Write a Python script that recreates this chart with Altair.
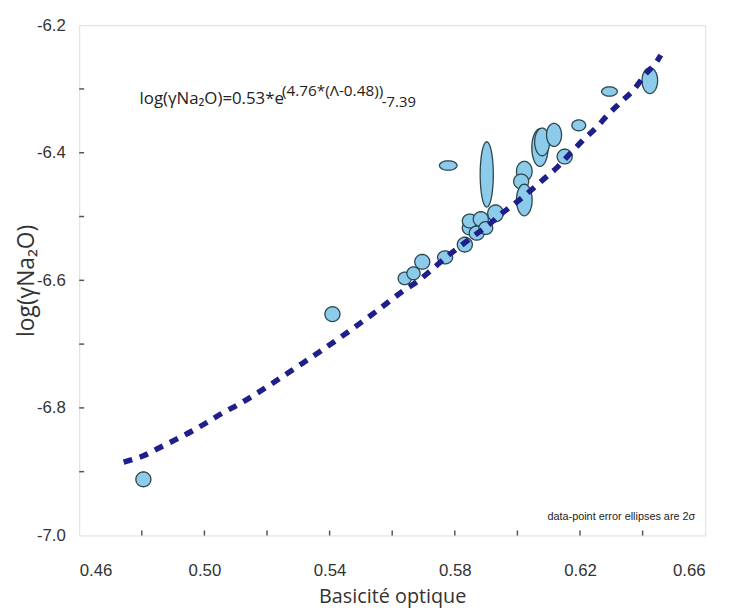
import altair as alt
import numpy as np
import pandas as pd

# ---- data ----
basicity = [0.4805, 0.5409, 0.5640, 0.5668, 0.5696, 0.5769, 0.5779, 0.5832,
            0.5848, 0.5848, 0.5870, 0.5883, 0.5899, 0.5902, 0.5930, 0.6022,
            0.6012, 0.6022, 0.6072, 0.6079, 0.6117, 0.6151, 0.6196, 0.6294, 0.6423]
log_gamma = [-6.912, -6.653, -6.597, -6.589, -6.571, -6.564, -6.420, -6.544,
             -6.518, -6.507, -6.526, -6.504, -6.518, -6.434, -6.495, -6.429,
             -6.445, -6.474, -6.392, -6.383, -6.372, -6.406, -6.357, -6.304, -6.287]
err_x = [0.0024, 0.0024, 0.0021, 0.0021, 0.0024, 0.0024, 0.0028, 0.0024,
         0.0024, 0.0024, 0.0024, 0.0024, 0.0022, 0.0021, 0.0025, 0.0025,
         0.0024, 0.0025, 0.0026, 0.0024, 0.0024, 0.0024, 0.0022, 0.0025, 0.0025]
err_y = [0.0116, 0.0116, 0.0098, 0.0101, 0.0116, 0.0101, 0.0074, 0.0116,
         0.0109, 0.0109, 0.0109, 0.0116, 0.0101, 0.0512, 0.0132, 0.0155,
         0.0116, 0.0248, 0.0295, 0.0217, 0.0181, 0.0116, 0.0085, 0.0073, 0.0202]

fit_x = [0.4742, 0.4805, 0.4858, 0.4911, 0.4958, 0.5011, 0.5058, 0.5111,
         0.5200, 0.5295, 0.5374, 0.5453, 0.5548, 0.5637, 0.5680, 0.5727,
         0.5769, 0.5816, 0.5864, 0.5906, 0.5953, 0.5996, 0.6043, 0.6085,
         0.6127, 0.6169, 0.6206, 0.6253, 0.6290, 0.6332, 0.6372, 0.6409,
         0.6448, 0.6458]
fit_y = [-6.885, -6.875, -6.862, -6.849, -6.837, -6.822, -6.808, -6.794,
         -6.767, -6.736, -6.710, -6.683, -6.649, -6.616, -6.602, -6.583,
         -6.565, -6.547, -6.529, -6.514, -6.494, -6.478, -6.459, -6.441,
         -6.423, -6.401, -6.382, -6.360, -6.340, -6.320, -6.301, -6.277,
         -6.255, -6.247]

x_labels = [0.46, 0.50, 0.54, 0.58, 0.62, 0.66]
y_labels = [-7.0, -6.8, -6.6, -6.4, -6.2]
x_ticks = [0.48, 0.50, 0.52, 0.54, 0.56, 0.58, 0.60, 0.62, 0.64]
y_ticks = [-6.3, -6.4, -6.5, -6.6, -6.7, -6.8, -6.9]

X_DOM = [0.46, 0.66]
Y_DOM = [-7.0, -6.2]
W, H = 633, 516

# ---- ellipse symbols (shape scaled from the data-unit half axes) ----
def ellipse_path(a, b, n=48):
    t = np.linspace(0, 2 * np.pi, n, endpoint=False)
    pts = [f"{a*np.cos(v):.4f},{b*np.sin(v):.4f}" for v in t]
    return "M" + " L".join(pts) + " Z"

rows = []
for x, y, ex, ey in zip(basicity, log_gamma, err_x, err_y):
    rx = ex / (X_DOM[1] - X_DOM[0]) * W
    ry = ey / (Y_DOM[1] - Y_DOM[0]) * H
    m = max(rx, ry)
    rows.append({"x": x, "y": y, "shape": ellipse_path(rx / m, ry / m),
                 "size": (2 * m) ** 2})
pts = pd.DataFrame(rows)
fit = pd.DataFrame({"x": fit_x, "y": fit_y})

xs = alt.Scale(domain=X_DOM, nice=False, zero=False)
ys = alt.Scale(domain=Y_DOM, nice=False, zero=False)

LABEL_FONT = "Liberation Sans"
TITLE_FONT = "Open Sans"

x_axis = alt.Axis(values=x_labels, labelExpr="format(datum.value, '.2f')",
                  ticks=False, domain=False, grid=False,
                  labelFont=LABEL_FONT, labelFontSize=17, labelColor="#333333",
                  labelPadding=27, title="Basicité optique", titleFont=TITLE_FONT,
                  titleFontSize=20, titleFontWeight="normal", titleColor="#333333",
                  titlePadding=9)
y_axis = alt.Axis(values=y_labels,
                  labelExpr="'-' + format(abs(datum.value), '.1f')",
                  ticks=False, domain=False, grid=False,
                  labelFont=LABEL_FONT, labelFontSize=17, labelColor="#333333",
                  labelPadding=14, title="log(γNa₂O)", titleFont=TITLE_FONT,
                  titleFontSize=23, titleFontWeight="normal", titleColor="#333333",
                  titlePadding=-2)

ell = alt.Chart(pts).mark_point(filled=True, fill="#8ccbea", stroke="#2c4650",
                                strokeWidth=1.3, opacity=1).encode(
    x=alt.X("x:Q", scale=xs, axis=x_axis),
    y=alt.Y("y:Q", scale=ys, axis=y_axis),
    shape=alt.Shape("shape:N", scale=None),
    size=alt.Size("size:Q", scale=None),
)

line = alt.Chart(fit).mark_line(color="#1f1f8c", strokeWidth=5.5,
                                strokeDash=[9, 8], interpolate="monotone").encode(
    x=alt.X("x:Q", scale=xs), y=alt.Y("y:Q", scale=ys))

xt = alt.Chart(pd.DataFrame({"v": x_ticks})).mark_rule(color="#555555", strokeWidth=1.5).encode(
    x=alt.X("v:Q", scale=xs), y=alt.value(H), y2=alt.value(H - 5))
yt = alt.Chart(pd.DataFrame({"v": y_ticks})).mark_rule(color="#555555", strokeWidth=1.5).encode(
    y=alt.Y("v:Q", scale=ys), x=alt.value(0), x2=alt.value(5))

def txt(s, x, y, size, align="left", font=TITLE_FONT):
    return alt.Chart(pd.DataFrame({"t": [s]})).mark_text(
        align=align, baseline="alphabetic", font=font, fontSize=size,
        color="#222222").encode(x=alt.value(x), y=alt.value(y), text="t:N")

eq1 = txt("log(γNa₂O)=0.53*e", 61, 80, 17)
eq2 = txt("(4.76*(Λ-0.48))", 205, 72, 15.5)
eq3 = txt("-7.39", 306, 83, 15)
note = txt("data-point error ellipses are 2σ", 623, 500, 11, align="right",
           font=LABEL_FONT)

chart = alt.layer(ell, line, xt, yt, eq1, eq2, eq3, note).properties(
    width=W, height=H, autosize="none",
    padding={"left": 72, "top": 14, "right": 20, "bottom": 72},
).configure_view(stroke="#555555", strokeWidth=2).configure(background="white")

chart.save("out.html", embed_options={"renderer": "svg", "actions": False})
